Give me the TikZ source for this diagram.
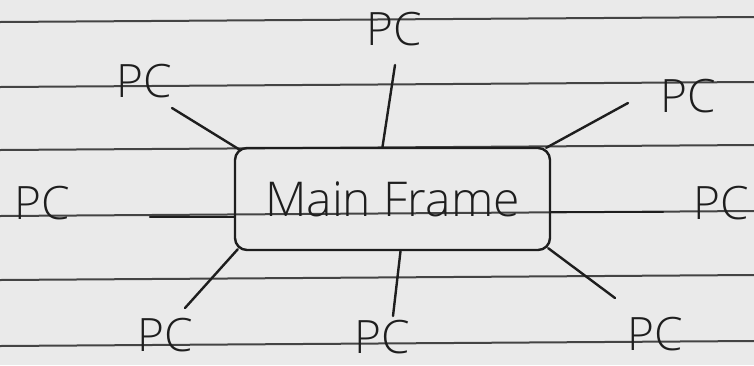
\documentclass[tikz,border=0pt]{standalone}
\usepackage{fontspec}
\setmainfont{Open Sans}[UprightFont={* Light}]
\usetikzlibrary{calc}
\definecolor{paper}{HTML}{EAEAEA}
\definecolor{ink}{HTML}{1E1E1E}
\definecolor{rule}{HTML}{444444}
\tikzset{
  ruled/.style={draw=rule, line width=2pt},
  link/.style={draw=ink, line width=2.4pt, line cap=round},
  pc/.style={text=ink, inner sep=0pt, text height=33pt, text depth=0pt,
    font=\fontsize{46}{50}\selectfont},
  mainbox/.style={draw=ink, line width=2.4pt, rounded corners=12pt,
    minimum width=315pt, minimum height=102pt, inner sep=0pt,
    text=ink, font=\fontsize{48}{52}\selectfont}
}
\begin{document}
\begin{tikzpicture}[x=1pt, y=-1pt]
  \useasboundingbox (0,0) rectangle (754,365);
  \fill[paper] (0,0) rectangle (754,365);

  % ruled notebook lines, rising slightly to the right
  \foreach \y in {22,87,150,216,280,346}
    \draw[ruled] (0,\y) -- (754,\y-5);

  % central machine
  \node[mainbox] (mf) at (392.5,199) {Main Frame};

  % terminals
  \node[pc] (pcT)  at (394,29)  {PC};
  \node[pc] (pcTL) at (144,81)  {PC};
  \node[pc] (pcTR) at (688,96)  {PC};
  \node[pc] (pcL)  at (42,203)  {PC};
  \node[pc] (pcR)  at (721,203) {PC};
  \node[pc] (pcBL) at (165,335) {PC};
  \node[pc] (pcBM) at (382,337) {PC};
  \node[pc] (pcBR) at (655,334) {PC};

  % loose ends of the cables near each terminal
  \coordinate (cT)  at (395,65);
  \coordinate (cTL) at (172,108);
  \coordinate (cTR) at (628,103);
  \coordinate (cL)  at (150,217);
  \coordinate (cR)  at (663,212);
  \coordinate (cBL) at (185,308);
  \coordinate (cBM) at (393,316);
  \coordinate (cBR) at (615,298);

  % cables to the box
  \draw[link] (cT)  -- ($(mf.north)+(-10,0)$);
  \draw[link] (cTL) -- ($(mf.north west)+(6,3)$);
  \draw[link] (cTR) -- ($(mf.north east)+(-5,1)$);
  \draw[link] (cL)  -- ($(mf.west)+(0,18)$);
  \draw[link] (cR)  -- ($(mf.east)+(0,13)$);
  \draw[link] (cBL) -- ($(mf.south west)+(4,-2)$);
  \draw[link] (cBM) -- ($(mf.south)+(8,0)$);
  \draw[link] (cBR) -- ($(mf.south east)+(-3,-3)$);
\end{tikzpicture}
\end{document}
